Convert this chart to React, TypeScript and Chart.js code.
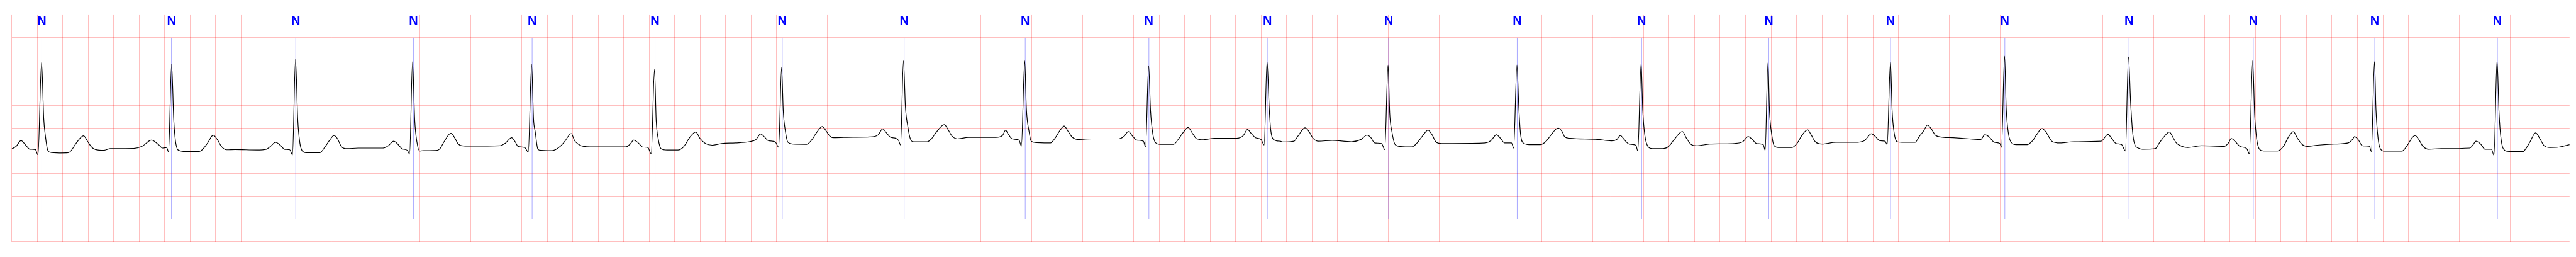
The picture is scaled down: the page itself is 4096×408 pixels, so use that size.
import React, { useEffect, useRef } from 'react';
import { Chart, registerables } from 'chart.js';

Chart.register(...registerables);

// ECG trace: time (s) and amplitude (mV)
const ecgTimes: number[] = [
  0.000, 0.035, 0.073, 0.110, 0.142, 0.185, 0.206, 0.234, 0.251, 0.264, 0.281, 0.297, 0.378, 0.442, 0.464, 0.507, 0.563, 0.597, 0.625, 0.657,
  0.721, 0.775, 0.957, 1.022, 1.097, 1.151, 1.183, 1.215, 1.230, 1.254, 1.271, 1.284, 1.305, 1.365, 1.472, 1.494, 1.537, 1.580, 1.612, 1.644,
  1.687, 1.751, 1.923, 1.998, 2.030, 2.069, 2.116, 2.138, 2.181, 2.202, 2.226, 2.243, 2.260, 2.279, 2.309, 2.417, 2.460, 2.492, 2.528, 2.556,
  2.588, 2.631, 2.717, 2.910, 2.953, 2.996, 3.028, 3.060, 3.103, 3.121, 3.144, 3.161, 3.178, 3.200, 3.232, 3.339,
  3.359, 3.391, 3.445, 3.477, 3.499, 3.531, 3.595, 3.831, 3.874, 3.921, 3.949, 3.971, 4.024, 4.052, 4.078, 4.093, 4.106, 4.127, 4.153, 4.239,
  4.303, 4.336, 4.389, 4.415, 4.443, 4.486, 4.604, 4.818, 4.851, 4.879, 4.915, 4.947, 4.990, 5.016, 5.042, 5.055, 5.072, 5.093, 5.140, 5.226,
  5.269, 5.323, 5.366, 5.398, 5.441, 5.494, 5.570, 5.677, 5.784, 5.838, 5.874, 5.902, 5.934, 5.988, 6.016, 6.039, 6.052, 6.069, 6.089, 6.127,
  6.235, 6.278, 6.310, 6.359, 6.385, 6.417, 6.449, 6.600,
  6.731, 6.796, 6.832, 6.860, 6.892, 6.935, 6.957, 6.972, 6.995, 7.010, 7.028, 7.049, 7.075, 7.182, 7.214, 7.257, 7.315, 7.343, 7.375, 7.418,
  7.504, 7.719, 7.772, 7.796, 7.815, 7.847, 7.901, 7.920, 7.946, 7.959, 7.980, 7.997, 8.040, 8.148, 8.180, 8.223, 8.255, 8.287, 8.319, 8.362,
  8.470, 8.684, 8.727, 8.759, 8.791, 8.824, 8.877, 8.894, 8.918, 8.933, 8.952, 8.974, 9.006, 9.113, 9.156, 9.188, 9.227, 9.264, 9.296, 9.349,
  9.435, 9.607, 9.661, 9.693, 9.725, 9.757, 9.800, 9.824, 9.847, 9.864, 9.875, 9.897, 9.950,
  9.972, 10.058, 10.090, 10.144, 10.176, 10.208, 10.251, 10.358, 10.509, 10.584, 10.631, 10.659, 10.691, 10.745, 10.770, 10.796, 10.809, 10.826, 10.852, 10.895,
  10.981, 11.024, 11.066, 11.109, 11.142, 11.174, 11.217, 11.303, 11.560, 11.603, 11.646, 11.678, 11.710, 11.764, 11.781, 11.807, 11.822, 11.835, 11.856, 11.903,
  11.989, 12.032, 12.075, 12.129, 12.161, 12.182, 12.225, 12.440, 12.547, 12.590, 12.618, 12.644, 12.687, 12.740, 12.755, 12.781, 12.794, 12.811, 12.837, 12.869,
  12.955, 12.998, 13.041, 13.105, 13.137, 13.170, 13.212, 13.320,
  13.406, 13.514, 13.578, 13.621, 13.653, 13.685, 13.739, 13.754, 13.776, 13.788, 13.806, 13.825, 13.857, 13.964, 14.007, 14.039, 14.087, 14.115, 14.147, 14.200,
  14.308, 14.458, 14.533, 14.587, 14.619, 14.651, 14.694, 14.711, 14.737, 14.750, 14.767, 14.790, 14.844, 14.930, 14.962, 14.994, 15.027, 15.059, 15.091, 15.145,
  15.230, 15.359, 15.445, 15.477, 15.509, 15.552, 15.595, 15.608, 15.632, 15.645, 15.660, 15.681, 15.724, 15.810, 15.853, 15.885, 15.926, 15.960, 16.003, 16.067,
  16.175, 16.389, 16.443, 16.475, 16.507, 16.550, 16.580, 16.604, 16.621,
  16.636, 16.652, 16.681, 16.714, 16.813, 16.846, 16.891, 16.924, 16.957, 16.979, 17.023, 17.068, 17.178, 17.355, 17.388, 17.410, 17.443, 17.477, 17.532, 17.552,
  17.578, 17.594, 17.609, 17.631, 17.665, 17.775, 17.819, 17.864, 17.897, 17.930, 17.963, 18.007, 18.085, 18.217, 18.328, 18.361, 18.377, 18.405, 18.439, 18.494,
  18.509, 18.534, 18.545, 18.562, 18.582, 18.615, 18.748, 18.792, 18.826, 18.852, 18.881, 18.914, 18.958, 19.058, 19.279, 19.305, 19.330, 19.367, 19.400, 19.451,
  19.471, 19.495, 19.511, 19.526, 19.555, 19.588, 19.699, 19.721, 19.754, 19.798, 19.832, 19.865, 19.909, 19.987, 20.064,
];

const ecgValues: number[] = [
  0.050, 0.106, 0.232, 0.131, 0.043, 0.035, -0.083, 1.957, 0.710, 0.333, 0.030, -0.020, -0.040, -0.035, 0.005, 0.181, 0.338, 0.207, 0.093, 0.035,
  0.018, 0.055, 0.060, 0.106, 0.244, 0.144, 0.068, 0.081, -0.015, 1.919, 0.685, 0.232, 0.025, -0.008, -0.008, 0.030, 0.181, 0.350, 0.257, 0.106,
  0.030, 0.035, 0.025, 0.043, 0.106, 0.194, 0.106, 0.043, 0.030, -0.083, 2.025, 0.710, 0.181, 0.005, -0.033, -0.033, 0.106, 0.232, 0.345, 0.270,
  0.093, 0.055, 0.068, 0.068, 0.118, 0.219, 0.156, 0.055, 0.018, -0.065, 1.970, 0.685, 0.207, 0.005, 0.010, 0.018,
  0.055, 0.207, 0.395, 0.282, 0.169, 0.118, 0.111, 0.118, 0.181, 0.295, 0.207, 0.106, 0.081, -0.020, 1.912, 0.710, 0.433, 0.043, 0.018, 0.010,
  0.106, 0.207, 0.388, 0.232, 0.156, 0.106, 0.093, 0.093, 0.156, 0.244, 0.181, 0.093, 0.081, -0.058, 1.801, 0.685, 0.257, 0.055, 0.025, 0.025,
  0.093, 0.320, 0.421, 0.282, 0.169, 0.131, 0.169, 0.181, 0.207, 0.257, 0.378, 0.320, 0.232, 0.207, 0.086, 1.844, 0.887, 0.433, 0.194, 0.156,
  0.151, 0.257, 0.395, 0.542, 0.458, 0.333, 0.295, 0.307,
  0.312, 0.358, 0.489, 0.408, 0.307, 0.282, 0.232, 0.136, 1.990, 0.987, 0.559, 0.270, 0.207, 0.207, 0.270, 0.433, 0.584, 0.484, 0.333, 0.270,
  0.302, 0.302, 0.345, 0.463, 0.383, 0.270, 0.244, 0.111, 1.990, 0.937, 0.433, 0.219, 0.189, 0.181, 0.270, 0.458, 0.554, 0.433, 0.307, 0.257,
  0.270, 0.270, 0.333, 0.433, 0.333, 0.244, 0.219, 0.093, 1.882, 0.887, 0.358, 0.181, 0.149, 0.149, 0.282, 0.408, 0.521, 0.383, 0.270, 0.252,
  0.282, 0.282, 0.345, 0.476, 0.383, 0.295, 0.257, 0.136, 1.975, 0.937, 0.484, 0.257, 0.219,
  0.202, 0.219, 0.333, 0.514, 0.433, 0.282, 0.219, 0.237, 0.207, 0.257, 0.353, 0.307, 0.181, 0.169, 0.035, 1.899, 0.836, 0.433, 0.144, 0.101,
  0.093, 0.181, 0.333, 0.463, 0.358, 0.194, 0.169, 0.169, 0.181, 0.232, 0.363, 0.282, 0.181, 0.181, 0.068, 1.899, 0.937, 0.383, 0.181, 0.144,
  0.144, 0.207, 0.358, 0.509, 0.433, 0.312, 0.282, 0.257, 0.227, 0.257, 0.345, 0.270, 0.156, 0.131, 0.005, 1.940, 0.887, 0.333, 0.093, 0.055,
  0.055, 0.106, 0.257, 0.433, 0.282, 0.156, 0.118, 0.156,
  0.161, 0.169, 0.207, 0.320, 0.257, 0.169, 0.144, 0.015, 1.950, 0.887, 0.358, 0.118, 0.081, 0.081, 0.181, 0.333, 0.468, 0.358, 0.207, 0.156,
  0.194, 0.194, 0.232, 0.383, 0.320, 0.232, 0.219, 0.144, 1.965, 0.887, 0.383, 0.207, 0.194, 0.194, 0.320, 0.433, 0.572, 0.484, 0.345, 0.307,
  0.295, 0.270, 0.257, 0.363, 0.320, 0.194, 0.169, 0.086, 2.096, 0.937, 0.433, 0.207, 0.144, 0.144, 0.232, 0.370, 0.496, 0.408, 0.219, 0.181,
  0.207, 0.219, 0.370, 0.270, 0.169, 0.144, 0.005, 2.076, 1.063,
  0.433, 0.156, 0.068, 0.043, 0.055, 0.181, 0.345, 0.421, 0.282, 0.181, 0.106, 0.081, 0.118, 0.106, 0.181, 0.277, 0.207, 0.106, 0.055, -0.058,
  1.990, 0.786, 0.282, 0.043, 0.005, 0.005, 0.106, 0.333, 0.428, 0.282, 0.156, 0.106, 0.131, 0.156, 0.181, 0.257, 0.320, 0.257, 0.118, 0.106,
  -0.008, 1.975, 0.937, 0.282, 0.043, 0.000, 0.000, 0.131, 0.282, 0.345, 0.257, 0.106, 0.043, 0.055, 0.068, 0.131, 0.219, 0.156, 0.043, 0.043,
  -0.091, 1.990, 0.836, 0.282, 0.018, -0.008, -0.008, 0.055, 0.207, 0.403, 0.270, 0.118, 0.081, 0.093, 0.144,
];

// Beat annotations (time in s) and their labels
const beatTimes: number[] = [
  0.236, 1.253, 2.228, 3.151, 4.082, 5.046, 6.044, 7.000, 7.950, 8.920, 9.849,
  10.800, 11.809, 12.785, 13.782, 14.737, 15.634, 16.608, 17.583, 18.536, 19.498,
];
const beatLabels: string[] = [
  'N', 'N', 'N', 'N', 'N', 'N', 'N', 'N', 'N', 'N', 'N',
  'N', 'N', 'N', 'N', 'N', 'N', 'N', 'N', 'N', 'N',
];

// Axis ranges (s / mV) and ECG paper grid steps
const X_MIN = 0;
const X_MAX = 20.064;
const Y_MIN = -2;
const Y_MAX = 3;
const GRID_X_STEP = 0.2;
const GRID_Y_STEP = 0.5;
const MARK_TOP = 2.5;
const MARK_BOTTOM = -1.5;
const LABEL_BASELINE = 2.79;

const GRID_COLOR = 'rgba(255, 0, 0, 0.25)';

const beatPlugin = {
  id: 'beatMarks',
  beforeDatasetsDraw(chart: any) {
    const { ctx, scales } = chart;
    const x = scales.x;
    const y = scales.y;
    ctx.save();
    ctx.strokeStyle = 'rgba(0, 0, 255, 0.5)';
    ctx.lineWidth = 0.7;
    const yTop = y.getPixelForValue(MARK_TOP);
    const yBot = y.getPixelForValue(MARK_BOTTOM);
    beatTimes.forEach((t) => {
      const px = x.getPixelForValue(t);
      ctx.beginPath();
      ctx.moveTo(px, yTop);
      ctx.lineTo(px, yBot);
      ctx.stroke();
    });
    ctx.fillStyle = '#0000ff';
    ctx.font = 'bold 20px "Liberation Sans", Arial, sans-serif';
    ctx.textAlign = 'center';
    ctx.textBaseline = 'alphabetic';
    const yLabel = y.getPixelForValue(LABEL_BASELINE);
    beatTimes.forEach((t, i) => {
      ctx.fillText(beatLabels[i], x.getPixelForValue(t), yLabel);
    });
    ctx.restore();
  },
};

const isOnStep = (v: number, step: number) => {
  const r = v / step;
  return Math.abs(r - Math.round(r)) < 1e-6;
};

export default function App() {
  const canvasRef = useRef<HTMLCanvasElement | null>(null);

  useEffect(() => {
    const canvas = canvasRef.current;
    if (!canvas) return;
    const points = ecgTimes.map((t, i) => ({ x: t, y: ecgValues[i] }));
    const chart = new Chart(canvas, {
      type: 'line',
      data: {
        datasets: [
          {
            data: points,
            borderColor: '#000000',
            borderWidth: 1.2,
            pointRadius: 0,
            cubicInterpolationMode: 'monotone',
            fill: false,
          },
        ],
      },
      options: {
        animation: false,
        responsive: false,
        maintainAspectRatio: false,
        devicePixelRatio: 1,
        events: [],
        layout: { padding: { left: 18.66, right: 10.2, top: 23.94, bottom: 24.1 } },
        plugins: { legend: { display: false }, tooltip: { enabled: false } },
        scales: {
          x: {
            type: 'linear',
            min: X_MIN,
            max: X_MAX,
            border: { display: false },
            ticks: { display: false, stepSize: GRID_X_STEP },
            grid: {
              drawTicks: false,
              lineWidth: 1,
              color: (c: any) =>
                c.tick && isOnStep(c.tick.value, GRID_X_STEP) ? GRID_COLOR : 'rgba(0,0,0,0)',
            },
          },
          y: {
            type: 'linear',
            min: Y_MIN,
            max: Y_MAX,
            border: { display: false },
            ticks: { display: false, stepSize: GRID_Y_STEP },
            grid: {
              drawTicks: false,
              lineWidth: 1,
              color: (c: any) =>
                c.tick && c.tick.value < Y_MAX - 1e-9 ? GRID_COLOR : 'rgba(0,0,0,0)',
            },
          },
        },
      },
      plugins: [beatPlugin],
    } as any);
    return () => chart.destroy();
  }, []);

  return (
    <div style={{ position: 'fixed', left: 0, top: 0, width: 4096, height: 408, background: '#ffffff' }}>
      <canvas ref={canvasRef} width={4096} height={408} style={{ display: 'block', width: 4096, height: 408 }} />
    </div>
  );
}
